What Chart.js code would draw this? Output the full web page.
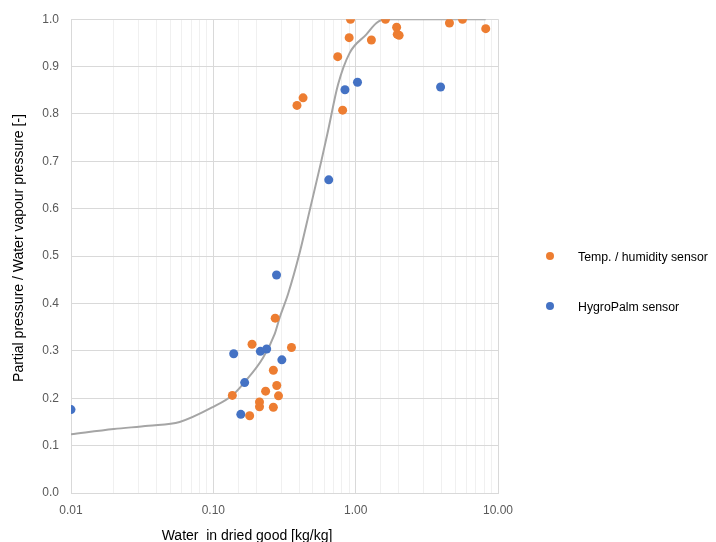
<!DOCTYPE html>
<html>
<head>
<meta charset="utf-8">
<script src="https://cdn.jsdelivr.net/npm/chart.js@4.4.0/dist/chart.umd.min.js"></script>
<style>
  body { margin: 0; background: #fff; }
</style>
</head>
<body>
<canvas id="myChart" width="716" height="542"></canvas>
<script>
// Temp. / humidity sensor readings
const tempX = [0.136, 0.180, 0.187, 0.211, 0.211, 0.233, 0.264, 0.264, 0.272, 0.279, 0.287, 0.354,
  0.387, 0.427, 0.748, 0.81, 0.90, 0.92, 1.29, 1.62, 1.94, 1.96, 2.02, 4.56, 5.63, 8.2];
const tempY = [0.206, 0.163, 0.314, 0.192, 0.182, 0.215, 0.259, 0.181, 0.369, 0.227, 0.205, 0.307,
  0.818, 0.834, 0.921, 0.808, 0.961, 1.0, 0.956, 1.0, 0.983, 0.968, 0.966, 0.992, 1.0, 0.98];

// HygroPalm sensor readings
const palmX = [0.01, 0.139, 0.156, 0.166, 0.214, 0.237, 0.278, 0.303, 0.647, 0.841, 1.03, 3.95];
const palmY = [0.176, 0.294, 0.166, 0.233, 0.299, 0.304, 0.46, 0.281, 0.661, 0.851, 0.867, 0.857];

// fitted sorption curve (grey line)
const curveX = [0.01, 0.02, 0.035, 0.058, 0.1, 0.137, 0.166, 0.224, 0.27, 0.293, 0.335, 0.405,
  0.475, 0.574, 0.639, 0.752, 0.908, 1.19, 1.40, 1.6, 8.2];
const curveY = [0.124, 0.135, 0.142, 0.150, 0.182, 0.207, 0.234, 0.286, 0.336, 0.371, 0.42, 0.508,
  0.596, 0.701, 0.764, 0.862, 0.929, 0.968, 0.992, 1.0, 1.0];

const xTitle = 'Water  in dried good [kg/kg]';
const yTitle = 'Partial pressure / Water vapour pressure [-]';

const toPoints = (xs, ys) => xs.map((x, i) => ({ x: x, y: ys[i] }));
const isDecade = v => {
  const l = Math.log10(v);
  return Math.abs(l - Math.round(l)) < 1e-6;
};

const FONT = '"Liberation Sans", Arial, sans-serif';

// legend on the right and the axis titles, drawn by hand so the placement matches
const sideLegend = {
  id: 'sideLegend',
  afterDraw(chart) {
    const ctx = chart.ctx;
    const items = chart.data.datasets.filter(d => d.inLegend);
    ctx.save();
    ctx.textBaseline = 'middle';
    items.forEach((d, i) => {
      const y = 256 + i * 50;
      ctx.beginPath();
      ctx.arc(550, y, 4, 0, Math.PI * 2);
      ctx.fillStyle = d.backgroundColor;
      ctx.fill();
      ctx.fillStyle = '#000';
      ctx.font = '12.3px ' + FONT;
      ctx.textAlign = 'left';
      ctx.fillText(d.label, 578, y + 2);
    });

    ctx.fillStyle = '#000';
    ctx.font = '14px ' + FONT;
    ctx.textAlign = 'center';
    ctx.fillText(xTitle, 247, 536);

    ctx.translate(19, 248);
    ctx.rotate(-Math.PI / 2);
    ctx.fillText(yTitle, 0, 0);
    ctx.restore();
  }
};

const chart = new Chart(document.getElementById('myChart'), {
  type: 'scatter',
  plugins: [sideLegend],
  data: {
    datasets: [
      {
        label: 'Temp. / humidity sensor',
        inLegend: true,
        data: toPoints(tempX, tempY),
        backgroundColor: '#ED7D31',
        borderWidth: 0,
        pointRadius: 4.5,
      },
      {
        label: 'HygroPalm sensor',
        inLegend: true,
        data: toPoints(palmX, palmY),
        backgroundColor: '#4472C4',
        borderWidth: 0,
        pointRadius: 4.5,
      },
      {
        label: 'fit',
        data: toPoints(curveX, curveY),
        showLine: true,
        borderColor: '#A5A5A5',
        borderWidth: 2,
        pointRadius: 0,
        cubicInterpolationMode: 'monotone',
        fill: false,
      },
    ],
  },
  options: {
    responsive: false,
    animation: false,
    layout: { padding: { top: 18, right: 218, left: 0, bottom: 0 } },
    plugins: {
      legend: { display: false },
      tooltip: { enabled: false },
    },
    scales: {
      x: {
        type: 'logarithmic',
        min: 0.01,
        max: 10,
        afterFit: s => { s.height = 49; },
        border: { color: '#d9d9d9' },
        grid: {
          drawTicks: false,
          color: c => (c.tick && isDecade(c.tick.value)) ? '#d9d9d9' : '#f0f0f0',
        },
        ticks: {
          autoSkip: false,
          maxRotation: 0,
          padding: 10,
          color: '#595959',
          font: { family: FONT, size: 12 },
          callback: v => isDecade(v) ? v.toFixed(2) : '',
        },
      },
      y: {
        min: 0,
        max: 1,
        afterFit: s => { s.width = 71; },
        border: { color: '#d9d9d9' },
        grid: { drawTicks: false, color: '#d9d9d9' },
        ticks: {
          stepSize: 0.1,
          padding: 12,
          color: '#595959',
          font: { family: FONT, size: 12 },
          callback: v => v.toFixed(1),
        },
      },
    },
  },
});
</script>
</body>
</html>
